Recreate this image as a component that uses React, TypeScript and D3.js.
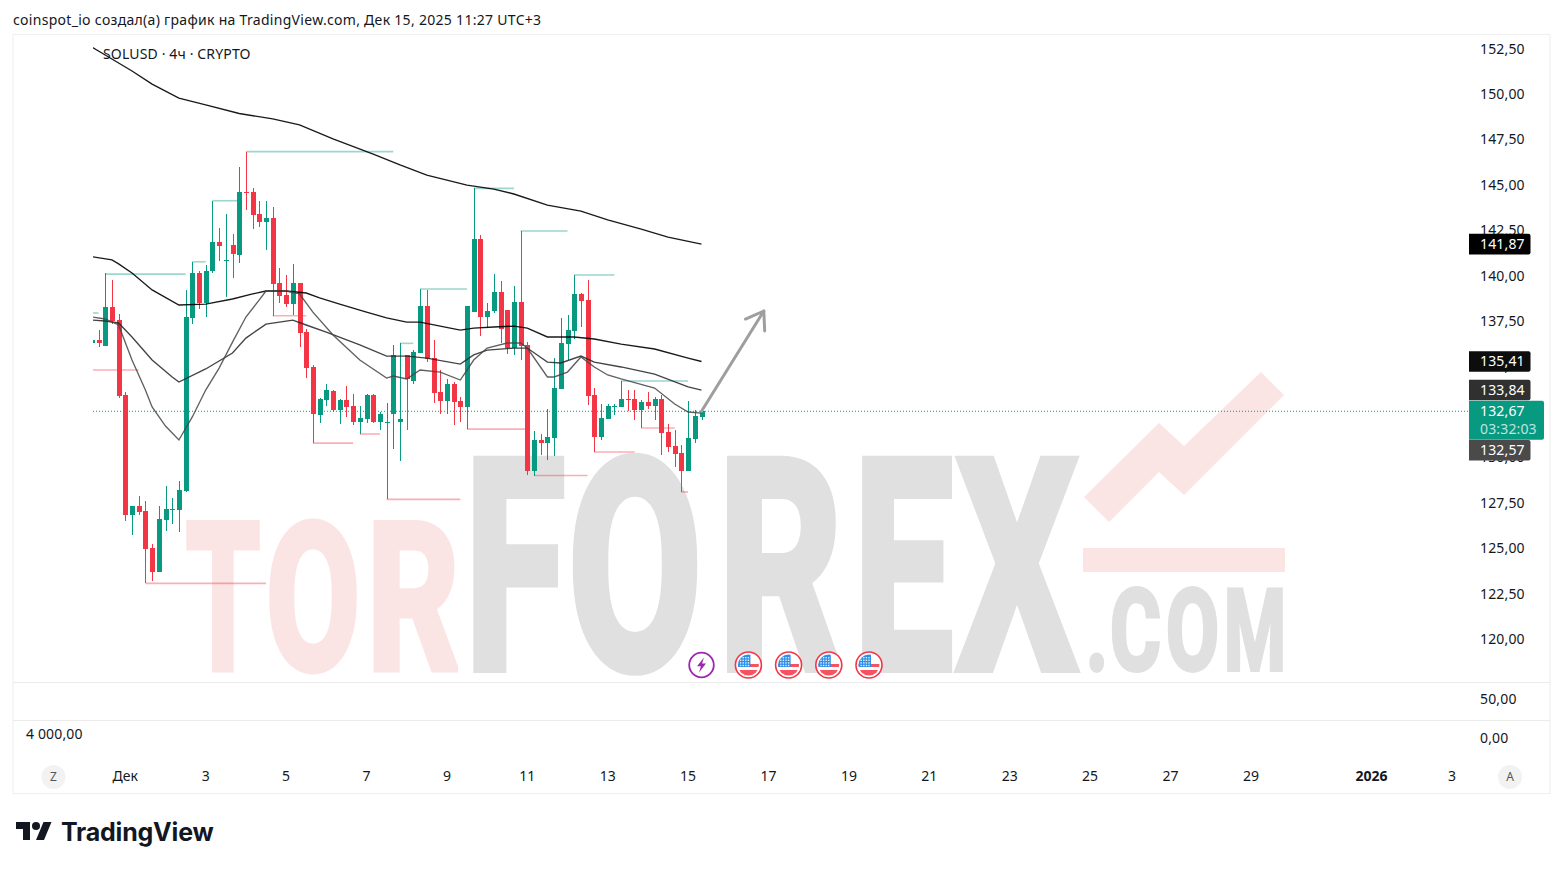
import React from "react";
import * as d3 from "d3";

// ---------- data (4h SOLUSD bars, oldest first) ----------
const opens = [136.45,136.59,136.28,138.43,137.69,133.57,126.96,127.46,127.18,125.14,123.82,126.69,127.25,127.24,128.28,137.81,140.28,138.63,140.39,141.99,141.00,141.82,141.27,144.74,144.74,143.53,143.09,143.31,139.73,139.07,138.57,139.73,137.03,135.11,132.47,133.29,133.79,132.74,133.29,132.96,132.08,132.25,133.57,132.08,132.08,132.52,132.08,135.77,134.34,135.88,138.47,135.60,133.73,133.24,134.17,133.24,132.91,138.15,142.15,137.86,138.19,139.24,138.25,136.15,138.68,136.32,129.38,131.09,130.92,131.20,133.90,136.37,137.09,139.13,138.80,133.57,131.25,132.25,132.91,132.91,133.35,133.35,132.74,133.18,132.96,133.35,131.53,130.76,130.37,129.38,131.14,132.36];
const highs = [136.59,137.14,140.28,139.90,138.01,133.71,127.46,128.01,127.73,125.37,127.46,128.56,127.90,128.83,139.35,140.90,140.39,140.72,144.26,142.76,143.53,142.43,146.12,146.96,144.96,144.24,144.24,143.91,140.56,140.17,140.78,139.73,137.20,135.22,133.40,134.17,133.84,133.35,134.06,133.62,132.96,133.62,133.62,132.63,133.13,136.32,136.41,134.78,136.04,139.40,139.35,136.59,134.94,134.45,134.28,133.46,138.47,144.96,142.37,138.63,140.22,139.84,138.19,139.57,142.59,136.48,131.58,131.42,132.80,135.60,137.81,137.97,140.17,139.18,139.90,133.95,133.07,133.07,133.07,134.34,133.84,133.84,133.29,133.73,133.46,133.57,131.97,131.64,130.81,133.24,132.74,132.69];
const lows = [136.45,136.23,136.28,137.47,133.42,126.65,125.86,126.96,123.20,123.33,123.82,126.08,126.47,126.03,128.23,137.47,138.30,137.86,140.28,140.94,138.96,140.01,140.83,143.75,142.70,142.81,141.55,137.91,138.63,138.41,137.97,136.21,134.50,130.92,132.02,132.96,132.63,131.97,132.36,131.92,131.42,132.02,132.02,131.64,127.82,130.59,129.93,131.64,134.17,135.88,135.38,133.13,132.52,132.52,131.92,132.08,131.69,138.41,136.81,137.25,138.08,136.43,135.82,135.77,135.49,129.16,129.11,130.26,129.99,130.21,133.90,135.49,136.65,137.31,133.01,130.43,131.09,132.25,132.47,132.91,132.69,132.19,131.75,132.80,132.19,130.26,130.43,129.60,128.23,129.38,130.92,132.19];
const closes = [136.59,136.45,138.43,137.64,133.53,126.96,127.46,127.13,125.09,123.82,126.74,127.29,127.29,128.34,137.86,140.28,138.63,140.39,141.99,141.77,141.00,141.33,144.74,144.70,143.47,143.09,143.31,139.68,139.01,138.57,139.73,136.98,135.05,132.52,133.35,133.84,132.74,133.29,132.91,132.08,132.30,133.57,132.08,132.52,132.08,135.77,132.25,134.45,135.93,138.47,135.55,133.68,133.24,134.17,133.18,132.91,138.47,142.15,137.86,138.19,139.24,137.20,136.15,138.68,136.26,129.38,131.09,130.92,131.25,133.95,136.43,137.14,139.13,138.74,133.51,131.25,132.30,132.96,132.96,133.35,133.29,132.74,133.18,132.96,133.35,131.47,130.70,130.32,129.38,131.20,132.41,132.69];

// moving averages: [bar index, price]
const maSlow: [number, number][] = [[0,152.72],[2,152.28],[6,151.40],[9,150.68],[13,149.91],[17,149.53],[22,149.06],[27,148.76],[31,148.43],[36,147.66],[42,146.83],[46,146.23],[50,145.67],[56,145.12],[60,144.90],[63,144.63],[68,144.02],[73,143.69],[77,143.20],[82,142.70],[86,142.26],[91,141.87]];
const maMid: [number, number][] = [[0,141.18],[3,141.00],[4,140.78],[6,140.28],[9,139.35],[13,138.52],[17,138.57],[21,138.85],[24,139.13],[26,139.29],[29,139.29],[32,139.18],[34,138.91],[37,138.57],[41,138.13],[44,137.81],[47,137.58],[49,137.58],[52,137.36],[55,137.14],[57,137.25],[60,137.31],[63,137.36],[65,137.25],[68,136.76],[72,136.76],[75,136.65],[79,136.37],[84,136.10],[89,135.60],[91,135.41]];
const maFast: [number, number][] = [[0,137.69],[2,137.64],[4,137.53],[6,136.76],[9,135.49],[12,134.56],[13,134.28],[17,135.00],[21,135.88],[23,136.70],[26,137.47],[30,137.69],[32,137.42],[35,137.03],[40,136.32],[44,135.71],[47,135.71],[50,135.60],[55,135.27],[57,135.77],[59,136.04],[63,136.15],[65,136.15],[68,135.38],[70,135.33],[73,135.71],[75,135.38],[79,135.11],[84,134.72],[89,134.01],[91,133.84]];
const maFastest: [number, number][] = [[0,137.86],[2,137.75],[4,137.42],[6,135.49],[8,133.84],[9,132.91],[11,131.86],[13,131.09],[15,132.36],[17,133.84],[19,135.05],[21,136.48],[23,137.86],[25,138.80],[26,139.29],[29,139.29],[31,139.13],[33,138.13],[36,136.87],[40,135.49],[44,134.50],[45,134.61],[47,134.45],[49,134.94],[52,134.83],[55,134.39],[56,134.94],[57,135.49],[59,136.15],[62,136.43],[64,136.43],[65,136.15],[68,134.56],[69,134.56],[71,134.83],[73,135.66],[75,135.11],[77,134.67],[79,134.45],[84,133.95],[87,133.07],[89,132.63],[91,132.57]];

// swing levels: [start bar, end bar, price]
const swingHighs: [number, number, number][] = [[0,1,138.08],[2,14,140.22],[15,17,140.90],[18,22,144.26],[23,45,146.96],[46,48,136.41],[49,56,139.40],[57,63,144.94],[64,71,142.59],[72,78,140.17],[79,89,134.34]];
const swingLows: [number, number, number][] = [[0,7,134.94],[8,26,123.20],[27,32,137.93],[33,39,130.92],[40,43,131.42],[44,55,127.82],[56,65,131.69],[66,74,129.14],[75,81,130.43],[82,87,131.75],[88,89,128.23]];

const arrowFrom: [number, number] = [91, 132.67];
const arrowTo: [number, number] = [100.3, 138.19];

const priceTicks = [152.5,150,147.5,145,142.5,140,137.5,135,132.5,130,127.5,125,122.5,120];
const timeTicks: [number, string, boolean][] = [[5,"Дек",false],[17,"3",false],[29,"5",false],[41,"7",false],[53,"9",false],[65,"11",false],[77,"13",false],[89,"15",false],[101,"17",false],[113,"19",false],[125,"21",false],[137,"23",false],[149,"25",false],[161,"27",false],[173,"29",false],[191,"2026",true],[203,"3",false]];
const badgeValues = [141.87,135.41,133.84,132.57];
const badgeFills = ["#000000","#0d0d0d","#303030","#4a4a4a"];
const flagBars = [98,104,110,116];
const lightningBar = 91;
const lastPrice = 132.67;
const countdown = "03:32:03";
const title = "coinspot_io создал(а) график на TradingView.com, Дек 15, 2025 11:27 UTC+3";
const symbol = "SOLUSD · 4ч · CRYPTO";

// watermark letters: [glyph, left, right, top, bottom, colour, stroke]
const wmPink = "#fbe5e4";
const wmGray = "#e0e0e0";
const wmLetters: [string, number, number, number, number, string, number][] = [
  ["T",186,260,518,672,wmPink,7],["O",266,360,518,672,wmPink,7],["R",367,459,518,672,wmPink,7],
  ["F",465,565,453,673,wmGray,10],["O",568,702,453,673,wmGray,10],["R",718,842,453,673,wmGray,10],["E",854,953,453,673,wmGray,10],["X",957,1077,453,673,wmGray,10],
  [".",1086,1108,587,672,wmGray,4],["C",1110,1161,587,672,wmGray,4],["O",1166,1219,587,672,wmGray,4],["M",1224,1286,587,672,wmGray,4],
];
const wmArrow: [number, number][] = [[1261,372],[1284,395],[1184,495],[1159,472],[1109,522],[1084,497],[1159,423],[1184,446]];

const UP = "#089981";
const DOWN = "#f23645";
const FONT = "'Noto Sans', Roboto, sans-serif";

const x = d3.scaleLinear().domain([0, 91]).range([91.8, 701.5]);
const y = d3.scaleLinear().domain([152.5, 120]).range([51, 641.5]);
const maLine = d3.line<[number, number]>().x((d) => x(d[0])).y((d) => y(d[1]));
const fmt = (v: number) => v.toFixed(2).replace(".", ",");

function FlagIcon({ cx, cy }: { cx: number; cy: number }) {
  const id = `fl${Math.round(cx)}`;
  const dots: React.ReactNode[] = [];
  for (let r = 0; r < 4; r++) for (let c = 0; c < 4; c++)
    dots.push(<rect key={`${r}${c}`} x={cx - 8.5 + c * 2.6} y={cy - 8 + r * 2.6} width={1.4} height={1.4} fill="#fff" opacity={0.85} />);
  return (
    <g>
      <circle cx={cx} cy={cy} r={13} fill="#fff" stroke={DOWN} strokeWidth={1.6} />
      <clipPath id={id}><circle cx={cx} cy={cy} r={10.5} /></clipPath>
      <g clipPath={`url(#${id})`}>
        <rect x={cx - 11} y={cy - 11} width={22} height={22} fill="#fff" />
        <rect x={cx - 11} y={cy - 1} width={22} height={3} fill="#f7525f" />
        <rect x={cx - 11} y={cy + 5} width={22} height={7} fill="#f7525f" />
        <rect x={cx - 11} y={cy - 11} width={13} height={13} fill="#2e8fe8" />
        {dots}
      </g>
    </g>
  );
}

export default function App() {
  const ax = x(arrowFrom[0]), ay = y(arrowFrom[1]), bx = x(arrowTo[0]), by = y(arrowTo[1]);
  const ang = Math.atan2(by - ay, bx - ax);
  const headLen = 20, headAng = 0.6;
  const h1 = [bx - headLen * Math.cos(ang - headAng), by - headLen * Math.sin(ang - headAng)];
  const h2 = [bx - headLen * Math.cos(ang + headAng), by - headLen * Math.sin(ang + headAng)];
  const lastY = y(lastPrice);
  // the last badge is pushed below the current-price label
  const badgeY = (p: number) => (p === 132.57 ? lastY + 39 : y(p));
  return (
    <svg width={1563} height={869} style={{ position: "absolute", left: 0, top: 0, background: "#fff", fontFamily: FONT }}>
      <defs>
        <clipPath id="plot"><rect x={93} y={35} width={1375} height={647} /></clipPath>
      </defs>
      <text x={13} y={25} fontSize={14} letterSpacing={0.3} fill="#131722">{title}</text>

      {/* frame */}
      <rect x={13} y={34.5} width={1537} height={759} fill="none" stroke="#f0f0f0" strokeWidth={1.2} />
      <line x1={13} x2={1550} y1={682.5} y2={682.5} stroke="#ebebeb" />
      <line x1={13} x2={1550} y1={720.5} y2={720.5} stroke="#ebebeb" />

      {/* watermark */}
      <g fontFamily="'Liberation Sans Narrow', Roboto, sans-serif" fontWeight={700} strokeLinejoin="miter">
        {wmLetters.map(([g, l, r, t, b, c, sw], i) => {
          const fs = (b - t - sw) / 0.72;
          return (
            <text key={i} x={l} y={b - sw / 2} fontSize={fs} fill={c} stroke={c} strokeWidth={sw} textLength={r - l} lengthAdjust="spacingAndGlyphs">{g}</text>
          );
        })}
      </g>
      <polygon points={wmArrow.map((p) => p.join(",")).join(" ")} fill={wmPink} />
      <rect x={1083} y={548} width={202} height={24} fill={wmPink} />

      <g clipPath="url(#plot)">
        <line x1={93} x2={1468} y1={lastY} y2={lastY} stroke={UP} strokeDasharray="1 2" />
        {swingHighs.map(([a, b, p], i) => (
          <line key={i} x1={x(a)} x2={x(b)} y1={y(p)} y2={y(p)} stroke={UP} strokeOpacity={0.4} strokeWidth={1.6} />
        ))}
        {swingLows.map(([a, b, p], i) => (
          <line key={i} x1={x(a)} x2={x(b)} y1={y(p)} y2={y(p)} stroke={DOWN} strokeOpacity={0.4} strokeWidth={1.6} />
        ))}
        {closes.map((c, i) => {
          const o = opens[i];
          const col = c >= o ? UP : DOWN;
          const cx = Math.round(x(i));
          const top = Math.round(y(Math.max(o, c)));
          const bot = Math.round(y(Math.min(o, c)));
          return (
            <g key={i} shapeRendering="crispEdges" fill={col}>
              <rect x={cx - 0.5} y={y(highs[i])} width={1} height={y(lows[i]) - y(highs[i])} />
              <rect x={cx - 2.5} y={top} width={5} height={Math.max(1, bot - top)} />
            </g>
          );
        })}
        <path d={maLine(maSlow)!} fill="none" stroke="#000" strokeWidth={1.35} opacity={0.9} />
        <path d={maLine(maMid)!} fill="none" stroke="#000" strokeWidth={1.35} opacity={0.9} />
        <path d={maLine(maFast)!} fill="none" stroke="#222" strokeWidth={1.35} opacity={0.85} />
        <path d={maLine(maFastest)!} fill="none" stroke="#444" strokeWidth={1.35} opacity={0.85} />
        <g fill="none" stroke="#9e9e9e" strokeWidth={3} strokeLinecap="round" strokeLinejoin="round">
          <line x1={ax} y1={ay} x2={bx} y2={by} />
          <polyline points={`${h1[0]},${h1[1]} ${bx},${by} ${h2[0]},${h2[1]}`} />
        </g>
      </g>

      <text x={103} y={59} fontSize={14} letterSpacing={0.15} fill="#131722">{symbol}</text>

      {/* events */}
      <g>
        <circle cx={x(lightningBar)} cy={665} r={12.3} fill="#fff" stroke="#9c27b0" strokeWidth={1.8} />
        <path transform={`translate(${x(lightningBar)},665)`} d="M2.5,-7.5 L-4.5,1.2 L-0.6,1.2 L-2.5,7.5 L4.5,-1.5 L0.6,-1.5 Z" fill="#9c27b0" />
        {flagBars.map((b) => <FlagIcon key={b} cx={x(b)} cy={665} />)}
      </g>

      {/* price axis */}
      {priceTicks.map((p) => (
        <text key={p} x={1480} y={y(p) - 3} dominantBaseline="central" fontSize={14} letterSpacing={0.15} fill="#131722">{fmt(p)}</text>
      ))}
      <text x={1480} y={698} dominantBaseline="central" fontSize={14} letterSpacing={0.15} fill="#131722">50,00</text>
      <text x={1480} y={737} dominantBaseline="central" fontSize={14} letterSpacing={0.15} fill="#131722">0,00</text>
      <text x={26} y={733} dominantBaseline="central" fontSize={14} letterSpacing={0.15} fill="#131722">4 000,00</text>

      {badgeValues.map((p, i) => (
        <g key={p}>
          <path d={`M1469,${badgeY(p) - 10.3} H1528.5 a2,2 0 0 1 2,2 V${badgeY(p) + 8.3} a2,2 0 0 1 -2,2 H1469 Z`} fill={badgeFills[i]} />
          <text x={1480} y={badgeY(p) - 1} dominantBaseline="central" fontSize={14} letterSpacing={0.15} fill="#fff">{fmt(p)}</text>
        </g>
      ))}
      <path d={`M1469,${lastY - 10.5} H1542 a2,2 0 0 1 2,2 V${lastY + 26.5} a2,2 0 0 1 -2,2 H1469 Z`} fill={UP} />
      <text x={1480} y={lastY - 1} dominantBaseline="central" fontSize={14} letterSpacing={0.15} fill="#fff">{fmt(lastPrice)}</text>
      <text x={1480} y={lastY + 17} dominantBaseline="central" fontSize={14} letterSpacing={0.15} fill="#fff" fillOpacity={0.75}>{countdown}</text>

      {/* time axis */}
      {timeTicks.map(([i, t, bold]) => (
        <text key={i} x={x(i)} y={775.5} textAnchor="middle" dominantBaseline="central" fontSize={14} fontWeight={bold ? 700 : 400} fill="#131722">{t}</text>
      ))}
      <circle cx={53.5} cy={777} r={12} fill="#f2f2f2" />
      <text x={53.5} y={776.5} textAnchor="middle" dominantBaseline="central" fontSize={12} fill="#555">Z</text>
      <circle cx={1510} cy={777} r={12} fill="#f2f2f2" />
      <text x={1510} y={776.5} textAnchor="middle" dominantBaseline="central" fontSize={12} fill="#555">A</text>

      {/* footer logo */}
      <g transform="translate(16,818)" fill="#131722">
        <path d="M14 22H7V11H0V4h14v18zM28 22h-8l7.5-18h8L28 22z" />
        <circle cx={20} cy={8} r={4} />
      </g>
      <text x={61} y={841} fontSize={25} fontWeight={700} fontFamily="Inter, Roboto, sans-serif" letterSpacing={-0.2} fill="#131722">TradingView</text>
    </svg>
  );
}
